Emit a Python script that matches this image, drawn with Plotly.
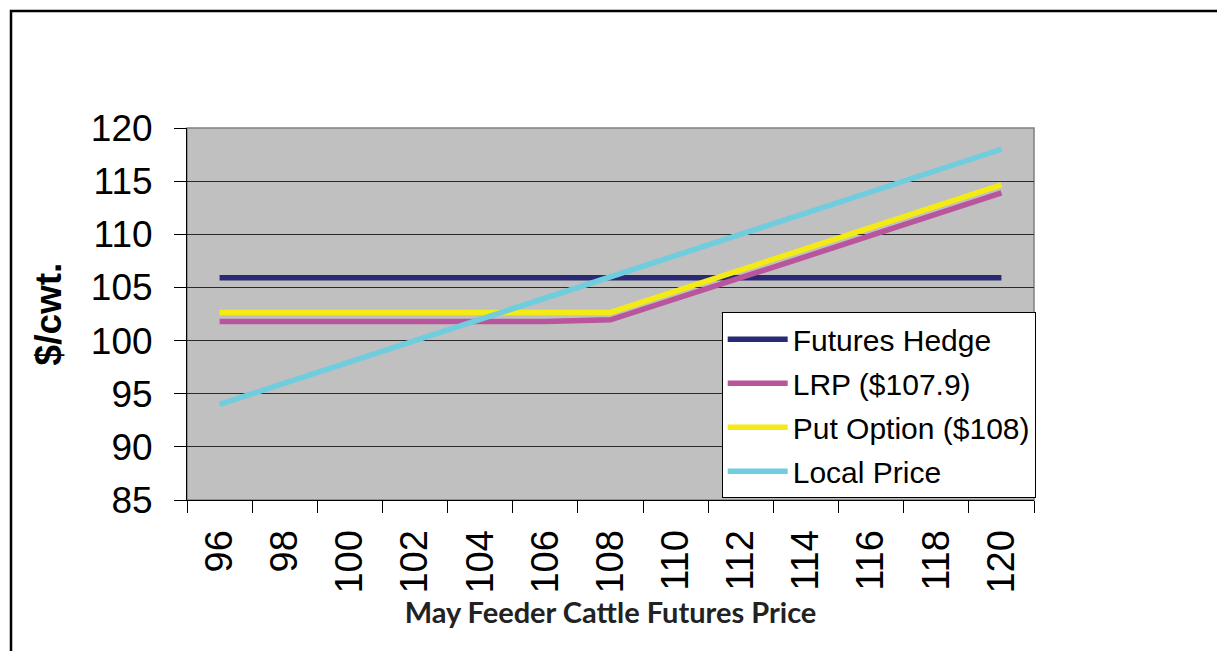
import plotly.graph_objects as go

# ---- data ----
futures_price = ["96", "98", "100", "102", "104", "106", "108", "110", "112", "114", "116", "118", "120"]
futures_hedge = [105.9, 105.9, 105.9, 105.9, 105.9, 105.9, 105.9, 105.9, 105.9, 105.9, 105.9, 105.9, 105.9]
lrp = [101.8, 101.8, 101.8, 101.8, 101.8, 101.8, 101.95, 103.9, 105.9, 107.9, 109.9, 111.9, 113.9]
put_option = [102.65, 102.65, 102.65, 102.65, 102.65, 102.65, 102.65, 104.65, 106.65, 108.65, 110.65, 112.65, 114.65]
local_price = [94, 96, 98, 100, 102, 104, 106, 108, 110, 112, 114, 116, 118]

series_names = ["Futures Hedge", "LRP ($107.9)", "Put Option ($108)", "Local Price"]
series_values = [futures_hedge, lrp, put_option, local_price]
series_colors = ["#2A2A74", "#B8559D", "#F5EB14", "#6FCDDD"]

FONT = "Arial, 'Liberation Sans', sans-serif"

fig = go.Figure()
for i, (name, vals, col) in enumerate(zip(series_names, series_values, series_colors)):
    fig.add_trace(go.Scatter(
        x=futures_price, y=vals, name=name, mode="lines",
        line=dict(color=col, width=5.5),
        legendgroup=f"g{i}",
    ))

# page has an 8px body margin, so layout coords are shifted by 8
OFF = 8
W, H = 1225 - OFF, 651 - OFF
L, R, T, B = 187 - OFF, 1034 - OFF, 128 - OFF, 500 - OFF

fig.update_layout(
    width=W, height=H,
    margin=dict(l=L, r=W - R, t=T, b=H - B, pad=0),
    paper_bgcolor="white",
    plot_bgcolor="#C0C0C0",
    font=dict(family=FONT, color="black"),
    showlegend=True,
    legend=dict(
        x=1.002, xanchor="right", y=0.005, yanchor="bottom",
        bgcolor="white", bordercolor="black", borderwidth=1,
        font=dict(family=FONT, size=30, color="black"),
        traceorder="grouped", tracegroupgap=2,
        itemwidth=60,
    ),
    xaxis=dict(
        type="category",
        tickangle=-90,
        tickfont=dict(family=FONT, size=38, color="black"),
        ticks="outside", ticklen=12, tickcolor="black", tickwidth=1,
        tickson="boundaries",
        showgrid=False,
        showline=True, linecolor="black", linewidth=1,
        ticklabelstandoff=14,
        title=dict(text="<b>May Feeder Cattle Futures Price</b>",
                   font=dict(family="Lato, sans-serif", size=29, color="#222"),
                   standoff=6),
        range=[-0.5, 12.5],
    ),
    yaxis=dict(
        range=[85, 120], dtick=5, tick0=85,
        tickfont=dict(family=FONT, size=37, color="black"),
        ticks="outside", ticklen=12, tickcolor="black", tickwidth=1,
        showgrid=True, gridcolor="#2a2a2a", gridwidth=1,
        showline=True, linecolor="black", linewidth=1,
        zeroline=False,
        ticklabelstandoff=14,
        title=dict(text="<b>$/cwt.</b>", font=dict(family=FONT, size=37, color="black"),
                   standoff=17),
    ),
)

# plot area border (gray top/right)
fig.add_shape(type="rect", xref="paper", yref="paper", x0=0, x1=1, y0=0, y1=1,
              line=dict(color="#7f7f7f", width=1.5), layer="below")

# outer chart frame
pw, ph = R - L, B - T
fig.add_shape(type="rect", xref="paper", yref="paper",
              x0=(11 - OFF - L) / pw, x1=(1240 - L) / pw,
              y0=(B - 670) / ph, y1=(B - (11 - OFF)) / ph,
              line=dict(color="black", width=2.5), layer="below")

fig.write_html("out.html")
